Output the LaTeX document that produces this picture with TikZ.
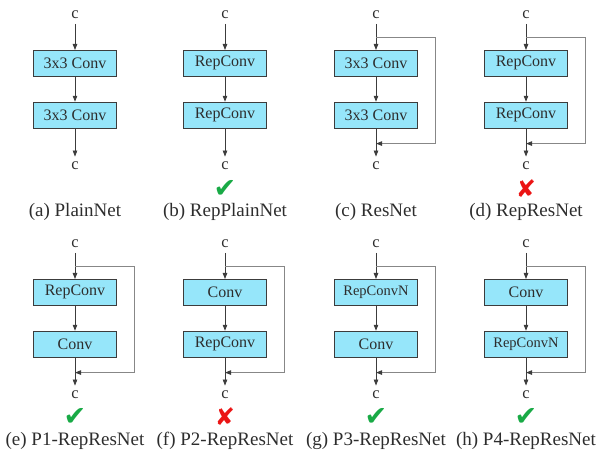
\documentclass[tikz,border=0pt]{standalone}
\usepackage{fontspec}
\setmainfont{Liberation Serif}
\newfontfamily\signfont{DejaVu Sans}
\usetikzlibrary{positioning,arrows.meta}
\definecolor{dDark}{RGB}{60,60,60}
\definecolor{dText}{RGB}{45,45,45}
\definecolor{dFill}{RGB}{150,230,250}
\definecolor{dSkip}{RGB}{135,135,135}
\definecolor{dGreen}{RGB}{25,170,70}
\definecolor{dRed}{RGB}{235,20,20}
\tikzset{
  cval/.style={inner sep=0pt, outer sep=5pt, text=dText,
               font=\fontsize{16.5}{16.5}\selectfont},
  blk/.style={rectangle, draw=dDark, fill=dFill, line width=0.8pt,
              minimum width=83pt, minimum height=26pt, inner sep=0pt,
              text=dText, font=\fontsize{16}{16}\selectfont},
  flow/.style={-{Triangle[length=6pt,width=4.5pt]}, draw=dDark, line width=0.8pt},
  skip/.style={-{Triangle[length=6pt,width=4.5pt,color=dDark]}, draw=dSkip, line width=0.8pt},
  subcap/.style={text=dText, font=\fontsize{19}{19}\selectfont},
  good/.style={text=dGreen, font=\signfont\fontsize{27}{27}\selectfont},
  bad/.style={text=dRed, font=\signfont\fontsize{24}{24}\selectfont},
}
\newcommand{\smallname}{\fontsize{14.5}{14.5}\selectfont}
% c -> box -> box -> c, with its caption
\newcommand{\ConvPair}[6]{%
  \node[cval] (#1-in) at (#2,#3) {c};
  \node[blk, below=26pt of #1-in] (#1-b1) {#4};
  \node[blk, below=25pt of #1-b1] (#1-b2) {#5};
  \node[cval, below=28pt of #1-b2] (#1-out) {c};
  \draw[flow] (#1-in) -- (#1-b1);
  \draw[flow] (#1-b1) -- (#1-b2);
  \draw[flow] (#1-b2) -- (#1-out);
  \node[subcap] (#1-cap) at ([yshift=-46pt]#1-out.center) {#6};}
% identity branch round the two boxes
\newcommand{\Bypass}[1]{%
  \coordinate (#1-split) at ([yshift=-22pt]#1-in.center);
  \coordinate (#1-merge) at ([yshift=-15pt]#1-b2.south);
  \coordinate (#1-side) at ([xshift=17pt]#1-b1.east);
  \draw[skip] (#1-split) -| (#1-side |- #1-merge) -- (#1-merge);}

\begin{document}
\begin{tikzpicture}[x=1pt, y=-1pt]
  \useasboundingbox (0,0) rectangle (599,456);

  %====================== TOP ROW ======================
  \ConvPair{pl}{75}{15}{3x3 Conv}{3x3 Conv}{(a) PlainNet}
  \ConvPair{rpl}{225}{15}{RepConv}{RepConv}{(b) RepPlainNet}
  \ConvPair{res}{376}{15}{3x3 Conv}{3x3 Conv}{(c) ResNet}
  \ConvPair{rres}{526}{15}{RepConv}{RepConv}{(d) RepResNet}
  \Bypass{res}
  \Bypass{rres}

  %====================== BOTTOM ROW ======================
  \ConvPair{pa}{75}{244}{RepConv}{Conv}{(e) P1-RepResNet}
  \ConvPair{pb}{225}{244}{Conv}{RepConv}{(f) P2-RepResNet}
  \ConvPair{pc}{376}{244}{\smallname RepConvN}{Conv}{(g) P3-RepResNet}
  \ConvPair{pd}{526}{244}{Conv}{\smallname RepConvN}{(h) P4-RepResNet}
  \Bypass{pa}
  \Bypass{pb}
  \Bypass{pc}
  \Bypass{pd}

  %====================== VERDICTS ======================
  \node[good] (rpl-mk) at ([yshift=-23pt]rpl-out.center) {✔};
  \node[bad] (rres-mk) at ([yshift=-23pt]rres-out.center) {✘};
  \node[good] (pa-mk) at ([yshift=-22pt]pa-out.center) {✔};
  \node[bad] (pb-mk) at ([yshift=-22pt]pb-out.center) {✘};
  \node[good] (pc-mk) at ([yshift=-22pt]pc-out.center) {✔};
  \node[good] (pd-mk) at ([yshift=-22pt]pd-out.center) {✔};

\end{tikzpicture}
\end{document}
